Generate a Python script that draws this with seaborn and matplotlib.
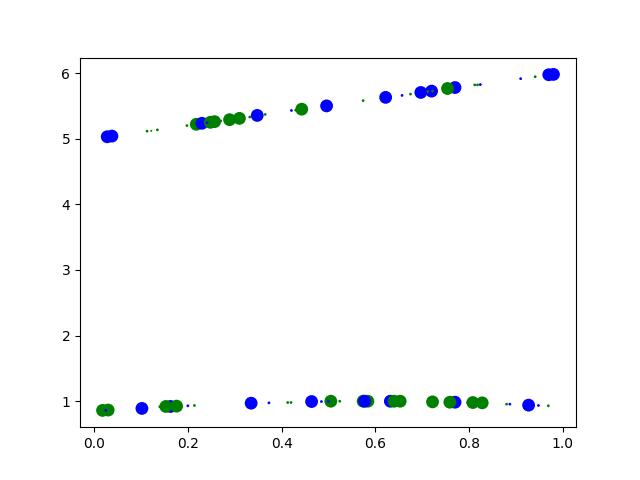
import matplotlib
matplotlib.use("Agg")
import matplotlib.pyplot as plt
import pandas as pd
import seaborn as sns

# points in draw order (later points sit on top)
x_vals = [
    # upper band
    0.028, 0.038, 0.113, 0.122, 0.135, 0.198, 0.218, 0.230, 0.248, 0.257,
    0.241, 0.270, 0.289, 0.310, 0.332, 0.348, 0.365, 0.421, 0.430, 0.443,
    0.496, 0.574, 0.622, 0.657, 0.675, 0.697, 0.720, 0.712, 0.722, 0.770,
    0.754, 0.812, 0.818, 0.824, 0.910, 0.941, 0.970, 0.980,
    # lower band
    0.018, 0.030, 0.025, 0.102, 0.140, 0.163, 0.153, 0.176, 0.200, 0.214,
    0.335, 0.373, 0.413, 0.420, 0.464, 0.485, 0.505, 0.500, 0.524, 0.574,
    0.584, 0.577, 0.632, 0.640, 0.653, 0.722, 0.770, 0.759, 0.797, 0.808,
    0.828, 0.880, 0.887, 0.927, 0.948, 0.969,
]
y_vals = [
    5.03, 5.04, 5.115, 5.12, 5.135, 5.20, 5.22, 5.235, 5.25, 5.26,
    5.245, 5.27, 5.29, 5.31, 5.33, 5.355, 5.37, 5.43, 5.435, 5.45,
    5.50, 5.58, 5.63, 5.66, 5.68, 5.705, 5.725, 5.72, 5.725, 5.78,
    5.765, 5.82, 5.82, 5.825, 5.915, 5.945, 5.975, 5.98,
    0.86, 0.865, 0.86, 0.89, 0.915, 0.92, 0.92, 0.925, 0.93, 0.935,
    0.97, 0.975, 0.98, 0.98, 0.995, 0.995, 1.0, 1.0, 1.0, 1.0,
    1.0, 1.0, 1.0, 1.0, 1.0, 0.99, 0.985, 0.985, 0.98, 0.98,
    0.975, 0.955, 0.955, 0.94, 0.935, 0.93,
]
colors = [
    "b", "b", "g", "g", "g", "g", "g", "b", "g", "g",
    "b", "g", "g", "g", "g", "b", "g", "b", "g", "g",
    "b", "g", "b", "b", "g", "b", "b", "g", "g", "b",
    "g", "g", "g", "b", "b", "g", "b", "b",
    "g", "g", "b", "b", "g", "b", "g", "g", "b", "g",
    "b", "b", "g", "g", "b", "b", "g", "b", "g", "g",
    "g", "b", "b", "g", "g", "g", "b", "g", "b", "g",
    "g", "g", "b", "b", "b", "g",
]
sizes = [
    85, 85, 4, 2, 4, 4, 85, 85, 85, 85,
    4, 4, 85, 85, 4, 85, 4, 4, 4, 85,
    85, 4, 85, 4, 4, 85, 85, 4, 4, 85,
    85, 4, 4, 4, 4, 4, 85, 85,
    85, 85, 4, 85, 4, 85, 85, 85, 4, 4,
    85, 4, 4, 4, 85, 4, 85, 4, 4, 85,
    85, 85, 85, 85, 85, 85, 85, 85, 4, 85,
    85, 4, 4, 85, 4, 4,
]

df = pd.DataFrame({"x": x_vals, "y": y_vals, "c": colors, "s": sizes})

fig, ax = plt.subplots(figsize=(6.4, 4.8), dpi=100)
sns.scatterplot(
    data=df,
    x="x",
    y="y",
    hue="c",
    palette={"b": "blue", "g": "green"},
    size="s",
    sizes={v: v for v in set(sizes)},
    linewidth=0,
    legend=False,
    ax=ax,
)
ax.set_xlabel("")
ax.set_ylabel("")

fig.savefig("out.png", dpi=100)
